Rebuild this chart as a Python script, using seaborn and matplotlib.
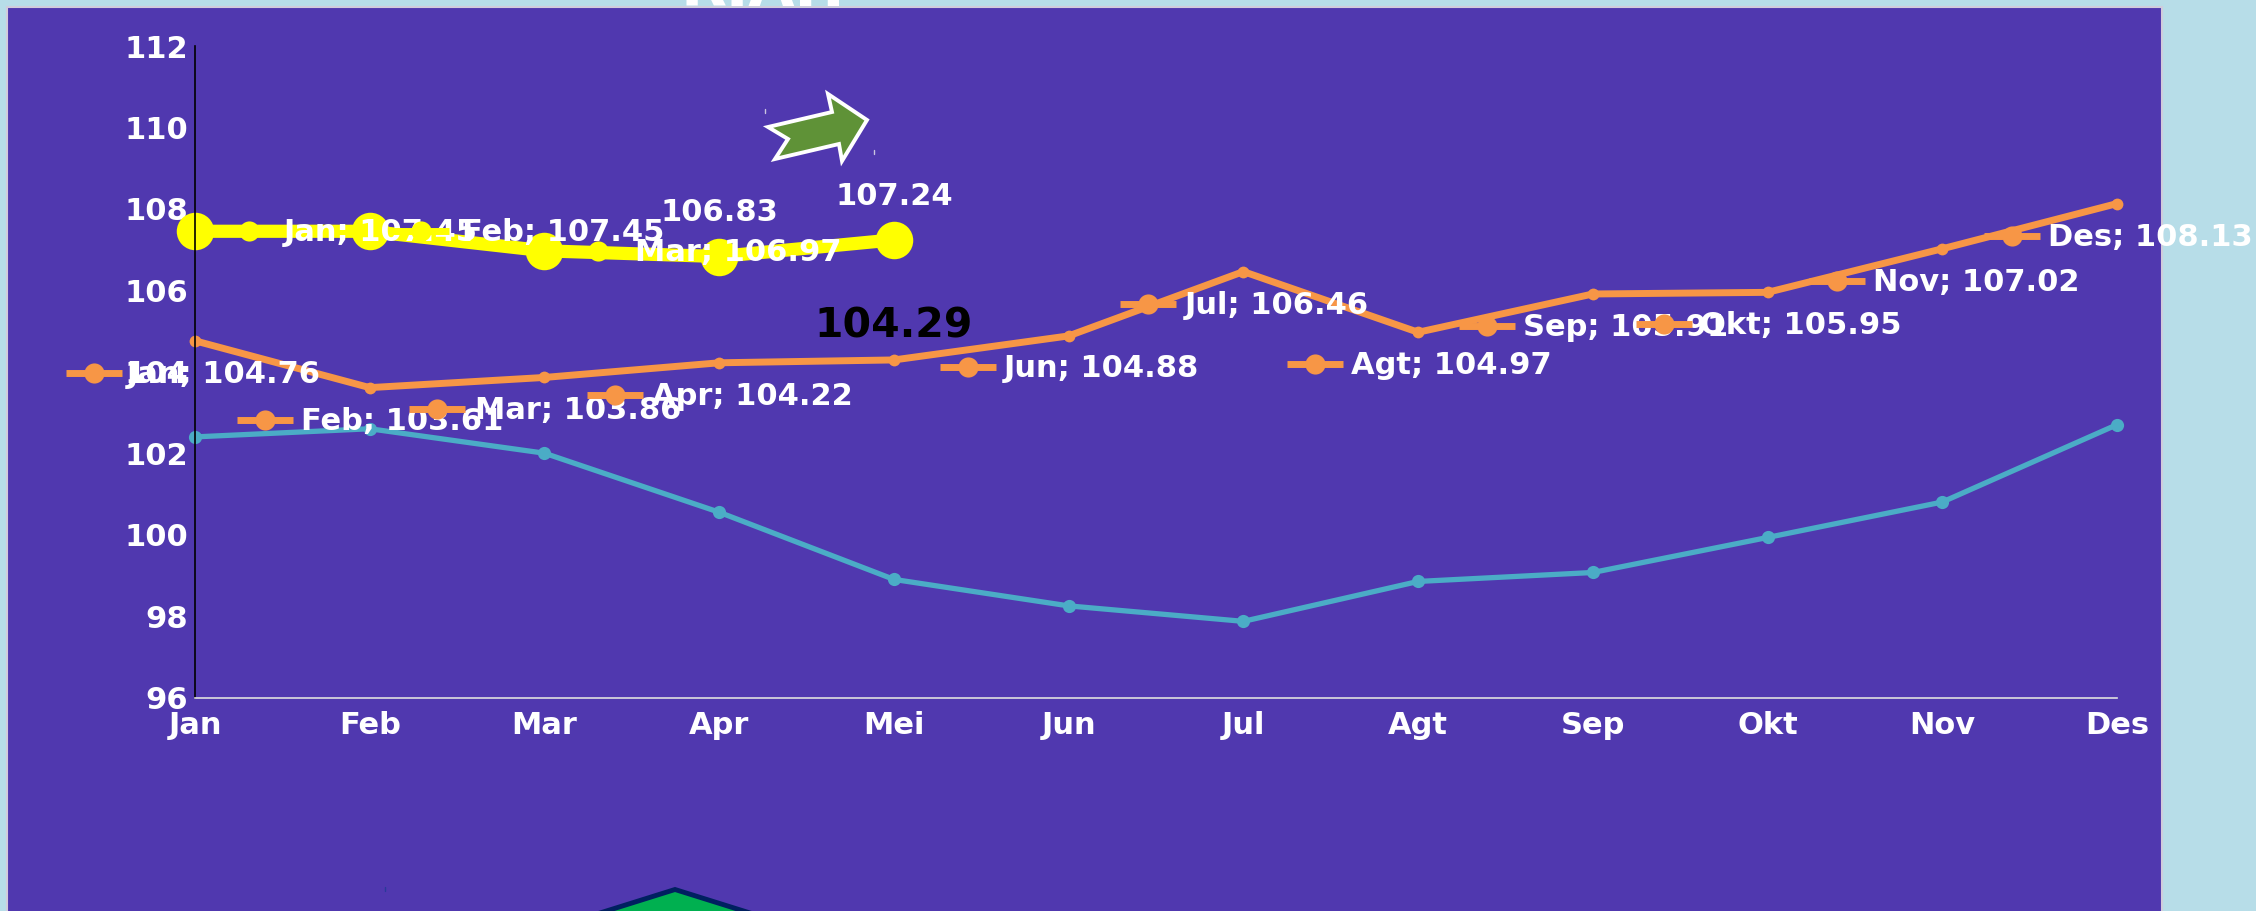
import matplotlib
matplotlib.use("Agg")
import matplotlib.pyplot as plt
import pandas as pd
import seaborn as sns
from matplotlib.patches import Polygon, Rectangle
from matplotlib.transforms import offset_copy

# Data
months = ["Jan", "Feb", "Mar", "Apr", "Mei", "Jun", "Jul", "Agt", "Sep", "Okt", "Nov", "Des"]
yellow_values = [107.45, 107.45, 106.97, 106.83, 107.24]
orange_values = [104.76, 103.61, 103.86, 104.22, 104.29, 104.88, 106.46, 104.97, 105.91, 105.95, 107.02, 108.13]
teal_values = [102.40, 102.60, 102.00, 100.55, 98.90, 98.25, 97.87, 98.85, 99.07, 99.93, 100.80, 102.70]
y_ticks = [96, 98, 100, 102, 104, 106, 108, 110, 112]

# Colours
BG = "#B7DDE8"
PANEL = "#5038AF"
ORANGE = "#F79646"
TEAL = "#4BACC6"
YELLOW = "#FFFF00"

# Label offsets from the point, in pixels: key x, key y, text x (y grows upward)
yellow_keys = {0: (54, 0, 89), 1: (51, 0, 92), 2: (54, 0, 91)}
orange_keys = {
    0: (-101, -32, -68),
    1: (-105, -32, -69),
    2: (-107, -32, -69),
    3: (-104, -32, -67),
    5: (-101, -31, -65),
    6: (-95, -32, -59),
    7: (-103, -32, -67),
    8: (-106, -32, -70),
    9: (-104, -32, -68),
    10: (-105, -32, -69),
    11: (-105, -32, -69),
}

sns.set_theme(style="white")
plt.rcParams["font.family"] = ["DejaVu Sans"]
plt.rcParams["font.weight"] = "bold"

fig = plt.figure(figsize=(22.56, 9.11), dpi=100, facecolor=BG)

# Slide layer in pixel coordinates
slide = fig.add_axes([0, 0, 1, 1], zorder=0)
slide.set_xlim(0, 2256)
slide.set_ylim(911, 0)
slide.axis("off")
slide.add_patch(Rectangle((7, 7), 2154.5, 920, fc=PANEL, ec="#D0CCDC", lw=1.5))
slide.add_patch(Polygon([(768, 127), (832, 112), (828, 94), (867, 120), (842, 161), (839, 144), (775, 159), (788, 139)],
                        fc="#5F9237", ec="white", lw=2.8, joinstyle="miter"))
slide.add_patch(Polygon([(600, 913), (675, 889.5), (750, 913), (750, 930), (600, 930)],
                        fc="#00B050", ec="#002060", lw=3.5, joinstyle="miter"))
# tiny handles left around the shapes
slide.plot([765, 765], [109, 113], color="#C9C4E0", lw=1)
slide.plot([874, 874], [150, 154], color="#C9C4E0", lw=1)
slide.plot([385, 385], [887, 891], color="#2A3A9A", lw=1)
# title, cut off by the top of the picture
slide.text(680, 6, "RIAH", color="white", fontsize=43, ha="left", va="baseline")

# Chart layer: left/bottom/width/height from the plot area in the picture
ax = fig.add_axes([195 / 2256, 1 - 697.5 / 911, 1922 / 2256, 651.5 / 911], zorder=1)
ax.patch.set_alpha(0)

df_teal = pd.DataFrame({"x": range(12), "y": teal_values})
df_orange = pd.DataFrame({"x": range(12), "y": orange_values})
df_yellow = pd.DataFrame({"x": range(5), "y": yellow_values})

sns.lineplot(data=df_teal, x="x", y="y", ax=ax, color=TEAL, lw=3.8, marker="o", ms=9.5, mew=0, clip_on=False)
sns.lineplot(data=df_orange, x="x", y="y", ax=ax, color=ORANGE, lw=5, marker="o", ms=8.5, mew=0, clip_on=False)
sns.lineplot(data=df_yellow, x="x", y="y", ax=ax, color=YELLOW, lw=9.5, marker="o", ms=27, mew=0, clip_on=False)

ax.set_xlim(0, 11)
ax.set_ylim(96, 112)
ax.set_xticks(range(12), months)
ax.set_yticks(y_ticks)
ax.set_xlabel("")
ax.set_ylabel("")
ax.tick_params(axis="both", length=0, labelsize=22, labelcolor="white")
ax.tick_params(axis="x", pad=10)
ax.tick_params(axis="y", pad=5)
for side in ["top", "right"]:
    ax.spines[side].set_visible(False)
ax.spines["left"].set_color("black")
ax.spines["left"].set_linewidth(1.2)
ax.spines["bottom"].set_color("#E0E0E0")
ax.spines["bottom"].set_linewidth(1.2)


def key_label(i, value, color, key, z):
    kx, ky, tx = key
    trans = offset_copy(ax.transData, fig=fig, x=kx, y=ky, units="dots")
    ax.plot([i], [value], transform=trans, marker="_", ms=41, mew=5, color=color, clip_on=False, zorder=z)
    ax.plot([i], [value], transform=trans, marker="o", ms=14.5, mew=0, color=color, clip_on=False, zorder=z)
    ax.annotate(f"{months[i]}; {value:.2f}", (i, value), xytext=(tx * 0.72, (ky - 1.5) * 0.72), textcoords="offset points",
                color="white", fontsize=22, ha="left", va="center", annotation_clip=False, zorder=z)


z = 5
for i, key in yellow_keys.items():
    key_label(i, yellow_values[i], YELLOW, key, z)
    z += 1
for i, key in orange_keys.items():
    key_label(i, orange_values[i], ORANGE, key, z)
    z += 1

# Plain value labels
ax.annotate(f"{yellow_values[3]:.2f}", (3, yellow_values[3]), xytext=(0, 32), textcoords="offset points",
            color="white", fontsize=22, ha="center", va="center", zorder=z)
ax.annotate(f"{yellow_values[4]:.2f}", (4, yellow_values[4]), xytext=(0, 31), textcoords="offset points",
            color="white", fontsize=22, ha="center", va="center", zorder=z)
ax.annotate(f"{orange_values[4]:.2f}", (4, orange_values[4]), xytext=(0, 24), textcoords="offset points",
            color="black", fontsize=29.5, ha="center", va="center", zorder=z)

fig.savefig("out.png", dpi=100, facecolor=BG)
